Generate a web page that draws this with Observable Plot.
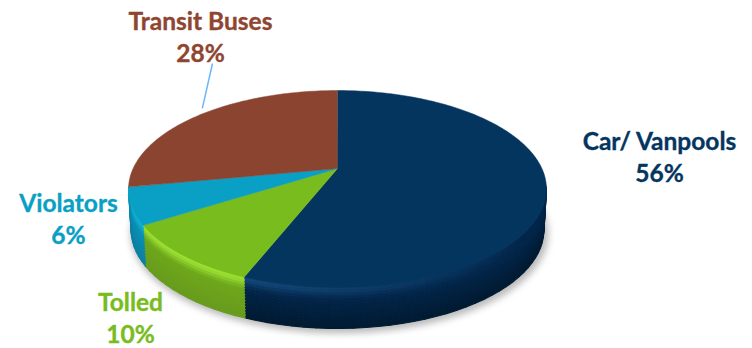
<!DOCTYPE html>
<html>
<head>
<meta charset="utf-8">
<script src="https://cdn.jsdelivr.net/npm/d3@7"></script>
<script src="https://cdn.jsdelivr.net/npm/@observablehq/plot@0.6"></script>
<style>
  html, body { margin: 0; padding: 0; background: #fff; }
</style>
</head>
<body>
<div id="chart"></div>
<script>
// Lane users by share, clockwise from twelve o'clock
const categories = ["Car/ Vanpools", "Tolled", "Violators", "Transit Buses"];
const shares = [56, 10, 6, 28];

// Surface colours per slice
const topColors = ["#04355f", "#78bc1e", "#0aa0c5", "#8a4430"];
const highlightColors = ["#134a7c", "#9be033", "#14b0d6", "#8a4430"];
const wallColors = ["#03264a", "#6ea81c", "#0b90b4", "#6e3524"];
const footColors = ["#011a31", "#689b1d", "#0c7fa2", "#5c2b1c"];
const labelColors = ["#04355f", "#78bc1e", "#0a9fc4", "#8f4530"];

// Perspective disc layout
const width = 752, height = 348;
const disc = {cx: 337, cy: 168, rx: 204.4, ry: 94.2, tilt: 0.208, depth: 41, taper: 0.012};

// Label centres and the leader line of the top label
const labelCentres = [[659, 155.5], [130, 316.5], [68, 217.5], [200, 35.5]];
const leader = {slice: 3, dx: 12, dy: 27.5, turn: 0.0244, reach: 1.06};

// Projects a polar position on the disc (angle clockwise from the back) to the page
function project(angle, reach = 1, drop = 0) {
  const u = Math.sin(angle) * reach, v = -Math.cos(angle) * reach;
  const s = 1 / (1 - disc.tilt * v);
  const narrow = 1 - disc.taper * drop / disc.depth;
  return {
    x: disc.cx + disc.rx * u * s * narrow,
    y: disc.cy + disc.ry * v * s + drop
  };
}

const arcs = d3.pie().sort(null).value(d => d)(shares);
const arcSteps = (a0, a1, step) => {
  const n = Math.max(1, Math.ceil((a1 - a0) / step));
  return d3.range(n + 1).map(i => a0 + (a1 - a0) * i / n);
};

// Top face polygons
const faces = arcs.flatMap((a, i) => [
  {id: `face${i}`, fill: topColors[i], ...project(0, 0)},
  ...arcSteps(a.startAngle, a.endAngle, 0.02).map(t => ({id: `face${i}`, fill: topColors[i], ...project(t)}))
]);

// Wall shading: a bright bevel just under the rim that settles into the wall and foot colours
function wallColor(i, angle, f) {
  // The bevel is lit from the front left and dies away toward the right
  const lit = Math.max(0, Math.min(1, (angle - 0.7 * Math.PI) / (0.45 * Math.PI)));
  const rim = d3.interpolateRgb(wallColors[i], highlightColors[i])(lit);
  if (f < 0.08) return rim;
  if (f < 0.3) return d3.interpolateRgb(rim, wallColors[i])((f - 0.08) / 0.22);
  return d3.interpolateRgb(wallColors[i], footColors[i])((f - 0.3) / 0.7);
}

// The visible wall runs between the disc's left and right silhouette angles
const wallFrom = 0.56 * Math.PI, wallTo = 1.44 * Math.PI;
const bands = d3.range(0, 1, 1 / 14);
const walls = arcs.flatMap((a, i) => {
  const from = Math.max(a.startAngle, wallFrom);
  const to = Math.min(a.endAngle, wallTo);
  if (to <= from) return [];
  const steps = arcSteps(from, to, 0.05);
  return d3.pairs(steps).flatMap(([t0, t1], k) => bands.flatMap(f => {
    const id = `wall${i}-${k}-${f}`;
    const fill = wallColor(i, (t0 + t1) / 2, f + 1 / 28);
    const d0 = f * disc.depth, d1 = (f + 1 / 14) * disc.depth;
    return [project(t0, 1, d0), project(t1, 1, d0), project(t1, 1, d1), project(t0, 1, d1)]
      .map(p => ({id, fill, ...p}));
  }));
});

// Soft contact shadow under the disc
const shadow = arcSteps(0, 2 * Math.PI, 0.03).map(t => {
  const p = project(t, 1.012, disc.depth + 3);
  return {x: p.x + 2, y: p.y};
});

const labels = categories.map((name, i) => ({
  text: `${name}\n${shares[i]}%`,
  x: labelCentres[i][0],
  y: labelCentres[i][1],
  fill: labelColors[i]
}));

const leaderArc = arcs[leader.slice];
const leaderEnd = project((leaderArc.startAngle + leaderArc.endAngle) / 2 + leader.turn * Math.PI, leader.reach);
const leaderStart = {
  x: labelCentres[leader.slice][0] + leader.dx,
  y: labelCentres[leader.slice][1] + leader.dy
};

const chart = Plot.plot({
  width, height,
  margin: 0,
  x: {domain: [0, width], range: [0, width], axis: null},
  y: {domain: [0, height], range: [0, height], axis: null},
  color: {type: "identity"},
  style: {background: "#fff"},
  marks: [
    Plot.line(shadow, {x: "x", y: "y", fill: "#8a8a8a", stroke: "none", fillOpacity: 0.6, imageFilter: "blur(3.5px)"}),
    Plot.line(walls, {x: "x", y: "y", z: "id", fill: "fill", stroke: "fill", strokeWidth: 1.1}),
    Plot.line(faces, {x: "x", y: "y", z: "id", fill: "fill", stroke: "fill", strokeWidth: 0.5}),
    Plot.link([{x1: leaderStart.x, y1: leaderStart.y, x2: leaderEnd.x, y2: leaderEnd.y}], {
      x1: "x1", y1: "y1", x2: "x2", y2: "y2", stroke: "#6ab7fb", strokeWidth: 1.5
    }),
    Plot.text(labels, {
      x: "x", y: "y", text: "text", fill: "fill", stroke: "fill", strokeWidth: 0.35,
      fontFamily: "Lato", fontWeight: "bold", fontSize: 24.5, lineHeight: 1.27, textAnchor: "middle"
    })
  ]
});
document.getElementById("chart").appendChild(chart);
</script>
</body>
</html>
